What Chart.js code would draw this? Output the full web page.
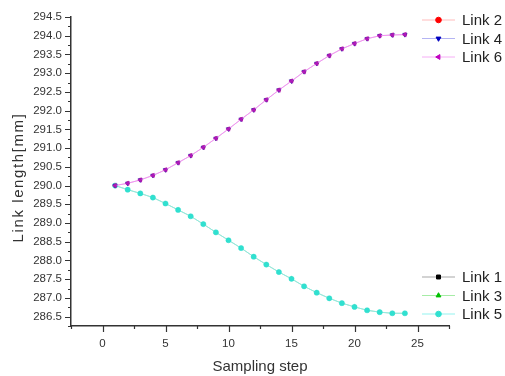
<!DOCTYPE html>
<html>
<head>
<meta charset="utf-8">
<script src="https://cdn.jsdelivr.net/npm/chart.js@4.4.1/dist/chart.umd.min.js"></script>
<style>
  html, body { margin: 0; padding: 0; background: #fff; }
  #wrap { width: 505px; height: 376px; }
</style>
</head>
<body>
<div id="wrap"><canvas id="chart"></canvas></div>
<script>
// sampling steps on the x axis
const steps = [1, 2, 3, 4, 5, 6, 7, 8, 9, 10, 11, 12, 13, 14, 15, 16, 17, 18, 19, 20, 21, 22, 23, 24];

// links 2, 4, 6 (they lie on top of each other)
const upperLinks = [290.00, 290.06, 290.15, 290.27, 290.42, 290.61, 290.80, 291.02, 291.26, 291.51, 291.77, 292.02,
                    292.29, 292.55, 292.79, 293.04, 293.26, 293.47, 293.65, 293.79, 293.92, 294.00, 294.02, 294.03];
// links 1, 3, 5
const lowerLinks = [290.00, 289.89, 289.79, 289.68, 289.52, 289.35, 289.18, 288.97, 288.75, 288.54, 288.33, 288.10,
                    287.89, 287.69, 287.51, 287.31, 287.14, 286.99, 286.86, 286.76, 286.67, 286.62, 286.59, 286.59];

const upperNames = ['Link 2', 'Link 4', 'Link 6'];
const lowerNames = ['Link 1', 'Link 3', 'Link 5'];

const xTitle = 'Sampling step';
const yTitle = 'Link length[mm]';

const FONT = "'Liberation Sans', Arial, sans-serif";

function toPoints(values) {
    return steps.map((s, i) => ({ x: s, y: values[i] }));
}

function makeSet(label, values, color, line, style, rotation, radius) {
    return {
        label: label,
        data: toPoints(values),
        borderColor: line,
        backgroundColor: color,
        pointBorderColor: color,
        pointBackgroundColor: color,
        borderWidth: 1,
        pointStyle: style,
        pointRotation: rotation,
        pointRadius: radius,
        pointBorderWidth: 0.5,
        showLine: true,
        tension: 0
    };
}

// first dataset is painted on top, so the last links come first
const datasets = [
    makeSet(upperNames[2], upperLinks, '#b018b8', 'rgba(245,140,245,0.9)', 'triangle', -90, 2.6),
    makeSet(upperNames[1], upperLinks, '#3020b0', 'rgba(60,60,230,0.15)', 'triangle', 180, 2.6),
    makeSet(upperNames[0], upperLinks, '#d01060', 'rgba(255,80,80,0.15)', 'circle', 0, 1.8),
    makeSet(lowerNames[2], lowerLinks, '#30e0d0', 'rgba(130,240,235,0.8)', 'circle', 0, 2.6),
    makeSet(lowerNames[1], lowerLinks, '#00c000', 'rgba(0,200,0,0.15)', 'triangle', 0, 2.2),
    makeSet(lowerNames[0], lowerLinks, '#000000', 'rgba(0,0,0,0.15)', 'rect', 0, 2)
];

// minor + major tick marks drawn outward from the axes
const tickPlugin = {
    id: 'ticks',
    afterDraw(chart) {
        const ctx = chart.ctx;
        const xs = chart.scales.x, ys = chart.scales.y;
        ctx.save();
        ctx.strokeStyle = '#333';
        ctx.lineWidth = 1.2;
        ctx.beginPath();
        xs.ticks.forEach(t => {
            const px = Math.round(xs.getPixelForValue(t.value)) + 0.5;
            const major = Math.abs(t.value / 5 - Math.round(t.value / 5)) < 1e-6;
            ctx.moveTo(px, xs.top);
            ctx.lineTo(px, xs.top + (major ? 6 : 3));
        });
        ys.ticks.forEach(t => {
            const py = Math.round(ys.getPixelForValue(t.value)) + 0.5;
            const major = Math.abs(t.value * 2 - Math.round(t.value * 2)) < 1e-6;
            ctx.moveTo(ys.right, py);
            ctx.lineTo(ys.right - (major ? 6 : 3), py);
        });
        ctx.stroke();

        // y axis title, a bit spaced out like the original
        const ca = chart.chartArea;
        ctx.translate(18.5, (ca.top + ca.bottom) / 2 + 6);
        ctx.rotate(-Math.PI / 2);
        ctx.font = '15px ' + FONT;
        ctx.letterSpacing = '1.6px';
        ctx.fillStyle = '#333';
        ctx.textAlign = 'center';
        ctx.textBaseline = 'middle';
        ctx.fillText(yTitle, 0, 0);
        ctx.restore();
    }
};

// two legend boxes inside the plot, like the original
const legendPlugin = {
    id: 'twoLegends',
    afterDraw(chart) {
        const ctx = chart.ctx;
        const groups = [
            { names: upperNames, y: 20 },
            { names: lowerNames, y: 277 }
        ];
        const legendColors = {
            'Link 1': ['#000000', 'rgba(0,0,0,0.35)'],
            'Link 2': ['#ff0000', 'rgba(255,60,60,0.35)'],
            'Link 3': ['#00c000', 'rgba(0,200,0,0.35)'],
            'Link 4': ['#0000c0', 'rgba(40,40,220,0.35)'],
            'Link 5': ['#30e0d0', 'rgba(120,240,235,0.8)'],
            'Link 6': ['#c000c0', 'rgba(240,120,240,0.6)']
        };
        ctx.save();
        ctx.font = '15px ' + FONT;
        ctx.textBaseline = 'middle';
        groups.forEach(g => {
            g.names.forEach((name, i) => {
                const ds = chart.data.datasets.find(d => d.label === name);
                const [mark, line] = legendColors[name];
                const y = g.y + i * 18.5;
                ctx.strokeStyle = line;
                ctx.lineWidth = 1;
                ctx.beginPath();
                ctx.moveTo(422, y);
                ctx.lineTo(455, y);
                ctx.stroke();
                ctx.fillStyle = mark;
                ctx.strokeStyle = mark;
                Chart.helpers.drawPoint(ctx, {
                    pointStyle: ds.pointStyle,
                    rotation: ds.pointRotation,
                    radius: 2.8,
                    borderWidth: 0.5
                }, 438.5, y);
                ctx.fillStyle = '#222';
                ctx.fillText(name, 462, y + 1);
            });
        });
        ctx.restore();
    }
};

new Chart(document.getElementById('chart').getContext('2d'), {
    type: 'scatter',
    data: { datasets: datasets },
    options: {
        responsive: true,
        maintainAspectRatio: false,
        animation: false,
        layout: { padding: { top: 17, right: 56, left: 0, bottom: 0 } },
        plugins: {
            legend: { display: false },
            tooltip: { enabled: false }
        },
        scales: {
            x: {
                type: 'linear',
                min: -2.5,
                max: 27.5,
                afterFit: s => { s.height = 50; },
                border: { display: true, color: '#333', width: 1.5 },
                grid: { display: false, drawTicks: false },
                ticks: {
                    stepSize: 2.5,
                    padding: 11,
                    color: '#333',
                    font: { family: FONT, size: 11.5 },
                    maxRotation: 0,
                    autoSkip: false,
                    callback: v => (Math.abs(v / 5 - Math.round(v / 5)) < 1e-6 ? String(Math.round(v)) : '')
                },
                title: {
                    display: true,
                    text: xTitle,
                    color: '#333',
                    font: { family: FONT, size: 15 },
                    padding: { top: 0, bottom: 0 }
                }
            },
            y: {
                type: 'linear',
                min: 286.25,
                max: 294.5,
                afterFit: s => { s.width = 71; },
                border: { display: true, color: '#333', width: 1.5 },
                grid: { display: false, drawTicks: false },
                ticks: {
                    stepSize: 0.25,
                    padding: 9,
                    color: '#333',
                    font: { family: FONT, size: 11.5 },
                    autoSkip: false,
                    callback: v => (Math.abs(v * 2 - Math.round(v * 2)) < 1e-6 ? v.toFixed(1) : '')
                },
                title: { display: false }
            }
        }
    },
    plugins: [tickPlugin, legendPlugin]
});
</script>
</body>
</html>
